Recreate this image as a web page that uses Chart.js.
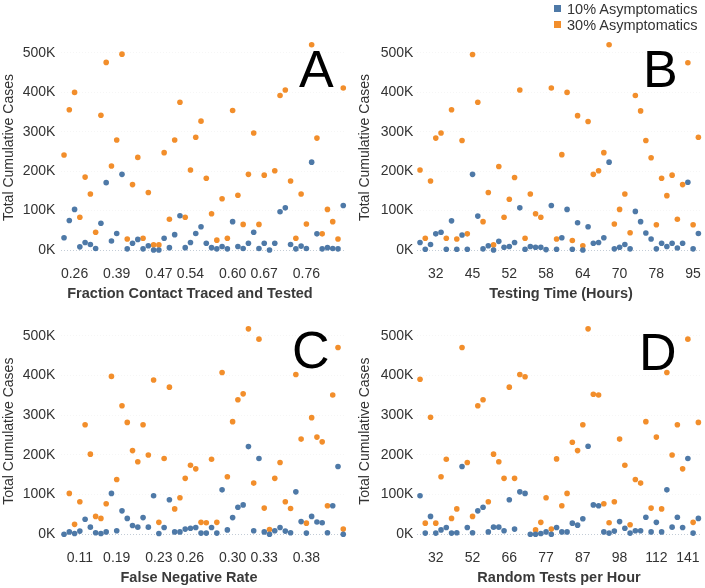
<!DOCTYPE html>
<html>
<head>
<meta charset="utf-8">
<script src="https://cdn.jsdelivr.net/npm/chart.js@4.4.1/dist/chart.umd.min.js"></script>
<style>
  body { margin: 0; background: #fff; }
  #wrap { position: relative; width: 705px; height: 588px; overflow: hidden;
          font-family: "Liberation Sans", Arial, sans-serif; color: #333; }
  canvas { position: absolute; }
  .xtitle { position: absolute; font-size: 14.5px; font-weight: bold; color: #3a3a3a;
            white-space: nowrap; transform: translate(-50%, -50%); }
  .tag { position: absolute; font-size: 52px; line-height: 52px; color: #000; }
  .sw { position: absolute; width: 7px; height: 7px; }
  .legtxt { position: absolute; font-size: 14.5px; line-height: 16px; color: #333; white-space: nowrap; }
</style>
</head>
<body>
<div id="wrap">
  <canvas id="chartA" width="350" height="290" style="left:0;top:0"></canvas>
  <canvas id="chartB" width="355" height="290" style="left:350px;top:0"></canvas>
  <canvas id="chartC" width="350" height="290" style="left:0;top:283px"></canvas>
  <canvas id="chartD" width="355" height="290" style="left:350px;top:283px"></canvas>

  <div class="xtitle" style="left:190px;top:293px">Fraction Contact Traced and Tested</div>
  <div class="xtitle" style="left:561px;top:293px">Testing Time (Hours)</div>
  <div class="xtitle" style="left:189px;top:577px">False Negative Rate</div>
  <div class="xtitle" style="left:559px;top:577px">Random Tests per Hour</div>

  <div class="tag" style="left:299px;top:43px">A</div>
  <div class="tag" style="left:643px;top:43px">B</div>
  <div class="tag" style="left:292px;top:324px">C</div>
  <div class="tag" style="left:639px;top:326px">D</div>

  <div class="sw" style="left:554px;top:5px;background:#4e79a7"></div>
  <div class="legtxt" style="left:567px;top:1px">10% Asymptomatics</div>
  <div class="sw" style="left:554px;top:21px;background:#f28e2b"></div>
  <div class="legtxt" style="left:567px;top:17px">30% Asymptomatics</div>
</div>

<script>
// values in thousands of cases, one entry per simulation (x position)
const blueA   = [31,75,103,8,19,14,4,68,171,23,42,192,3,17,27,3,11,0,0,30,6,39,87,6,19,42,59,17,6,3,9,3,72,9,4,17,45,4,17,0,17,97,107,14,3,10,4,223,41,3,6,4,3,113];
const orangeA = [241,356,400,83,185,142,45,342,476,213,279,497,28,166,235,30,146,13,13,247,78,279,375,83,203,286,327,182,92,25,130,30,354,139,65,192,297,65,190,null,201,392,406,175,30,142,66,521,284,41,103,72,28,411];
const tickSlotsA = [2, 10, 18, 24, 32, 38, 46];
const tickTextA  = ['0.26', '0.39', '0.47', '0.54', '0.60', '0.67', '0.76'];

const blueB   = [19,2,14,41,45,2,74,2,38,2,192,86,3,11,0,22,7,9,19,107,2,9,7,7,1,113,2,31,103,2,69,0,59,17,19,31,223,3,7,14,3,98,72,43,28,3,17,9,17,5,17,172,3,42];
const orangeB = [203,30,175,284,297,30,356,28,278,41,496,375,72,146,13,212,83,129,184,406,30,142,92,83,null,411,28,242,400,24,341,11,326,192,201,247,521,66,103,142,44,392,353,278,234,64,182,138,190,78,166,475,64,286];
const tickSlotsB = [3, 10, 17, 24, 31, 38, 45, 52];
const tickTextB  = ['32', '45', '52', '58', '64', '70', '78', '95'];

const blueC   = [0,6,2,8,38,18,4,2,6,103,9,59,40,22,18,42,18,97,2,17,87,6,6,13,15,17,3,3,17,3,112,11,42,68,74,221,9,191,6,0,9,17,8,4,107,32,3,45,31,29,4,72,171,0];
const orangeC = [null,103,25,82,276,202,45,40,77,398,138,324,282,211,183,276,200,389,30,191,371,64,92,141,174,165,30,29,189,30,408,145,284,339,354,518,129,492,66,12,141,181,82,65,403,240,28,294,245,233,72,351,471,13];
const tickSlotsC = [3, 10, 18, 24, 32, 38, 46];
const tickTextC  = ['0.11', '0.19', '0.23', '0.26', '0.30', '0.33', '0.38'];

const blueD   = [97,3,45,3,11,17,3,4,171,17,4,59,68,6,18,18,9,87,13,107,103,0,0,2,6,0,17,6,6,28,23,39,222,74,72,6,3,8,32,15,3,9,9,43,6,30,6,112,18,43,17,191,3,40];
const orangeD = [391,28,295,28,145,189,40,64,471,181,45,324,339,82,202,183,141,371,141,403,397,null,11,30,92,13,190,72,103,232,211,276,518,353,351,77,29,82,240,174,24,138,129,284,66,245,64,408,200,276,165,492,30,282];
const tickSlotsD = [3, 10, 17, 24, 31, 38, 45, 51];
const tickTextD  = ['32', '52', '66', '77', '87', '98', '112', '141'];

const yTicks = [0, 100, 200, 300, 400, 500];

const BLUE = '#4e79a7', ORANGE = '#f28e2b', TEXT = '#333';
const FONT = "'Liberation Sans', Arial, sans-serif";

function slotLabels(n, slots, text) {
  const out = new Array(n).fill('');
  slots.forEach((s, i) => { out[s] = text[i]; });
  return out;
}

function makePanel(id, blue, orange, slots, text, g) {
  const labels = slotLabels(blue.length, slots, text);
  return new Chart(document.getElementById(id), {
    type: 'line',
    data: {
      labels,
      datasets: [
        { label: '10% Asymptomatics', data: blue, showLine: false, pointRadius: 2.8,
          pointBackgroundColor: BLUE, pointBorderWidth: 0, clip: false },
        { label: '30% Asymptomatics', data: orange, showLine: false, pointRadius: 2.8,
          pointBackgroundColor: ORANGE, pointBorderWidth: 0, clip: false },
      ],
    },
    options: {
      responsive: false,
      animation: false,
      events: [],
      layout: { padding: { top: g.padTop, right: g.padRight, left: 0, bottom: 0 } },
      plugins: { legend: { display: false }, tooltip: { enabled: false } },
      scales: {
        x: {
          type: 'category', offset: true,
          grid: { display: false }, border: { display: false },
          ticks: { autoSkip: false, maxRotation: 0, minRotation: 0, padding: g.xPad,
                   color: TEXT, font: { family: FONT, size: 14 } },
          afterFit: s => { s.height = g.xAxisH; },
        },
        y: {
          min: -20, max: 540,
          afterBuildTicks: s => { s.ticks = yTicks.map(v => ({ value: v })); },
          grid: { drawTicks: false, lineWidth: 1,
                  color: c => c.tick && c.tick.value === 0 ? '#c3ccd6' : 'rgba(0,0,0,0.035)' },
          border: { display: false, dash: [1, 2] },
          ticks: { padding: g.tickPad, color: TEXT, font: { family: FONT, size: 14 },
                   callback: v => v + 'K' },
          title: { display: true, text: 'Total Cumulative Cases', color: TEXT,
                   font: { family: FONT, size: 14 }, padding: { top: g.titlePad, bottom: 0 } },
          afterFit: s => { s.width = g.axisW; },
        },
      },
    },
  });
}

makePanel('chartA', blueA, orangeA, tickSlotsA, tickTextA,
  { axisW: 61.4, tickPad: 6, titlePad: 0.6, padTop: 37.2, padRight: 4.1, xAxisH: 32.1, xPad: 0 });
makePanel('chartB', blueB, orangeB, tickSlotsB, tickTextB,
  { axisW: 67.4, tickPad: 4, titlePad: 7.2, padTop: 37.2, padRight: 3, xAxisH: 32.1, xPad: 0 });
makePanel('chartC', blueC, orangeC, tickSlotsC, tickTextC,
  { axisW: 61.4, tickPad: 6, titlePad: 0.6, padTop: 37.1, padRight: 4.1, xAxisH: 30.8, xPad: 0 });
makePanel('chartD', blueD, orangeD, tickSlotsD, tickTextD,
  { axisW: 67.4, tickPad: 4, titlePad: 7.2, padTop: 37.1, padRight: 3, xAxisH: 30.8, xPad: 0 });
</script>
</body>
</html>
